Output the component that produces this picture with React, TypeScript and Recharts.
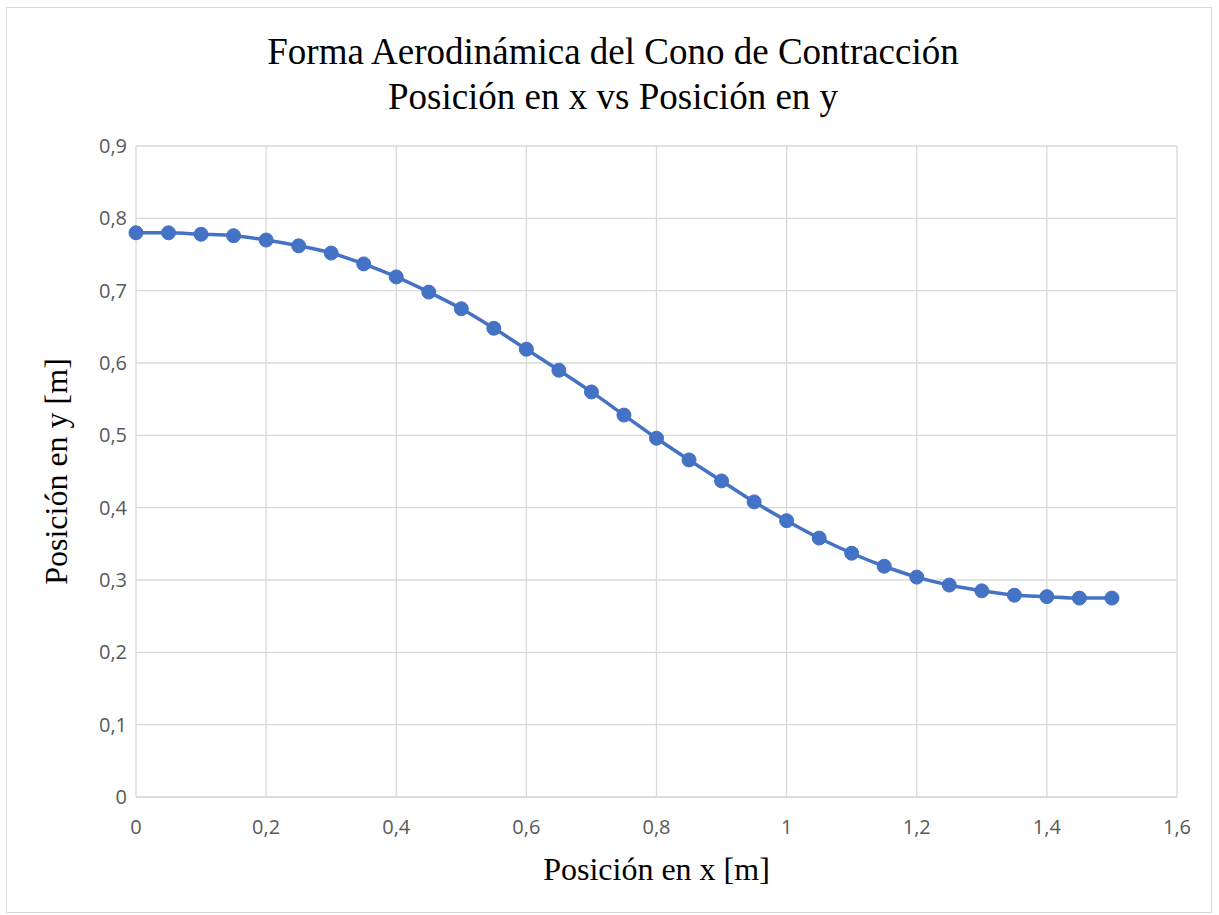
import { CartesianGrid, Label, Line, LineChart, XAxis, YAxis } from "recharts";

const xValues = [
  0, 0.05, 0.1, 0.15, 0.2, 0.25, 0.3, 0.35, 0.4, 0.45, 0.5, 0.55, 0.6, 0.65, 0.7, 0.75,
  0.8, 0.85, 0.9, 0.95, 1.0, 1.05, 1.1, 1.15, 1.2, 1.25, 1.3, 1.35, 1.4, 1.45, 1.5
];
const yValues = [
  0.78, 0.78, 0.778, 0.776, 0.77, 0.762, 0.752, 0.737, 0.719, 0.698, 0.675, 0.648, 0.619,
  0.59, 0.56, 0.528, 0.496, 0.466, 0.437, 0.408, 0.382, 0.358, 0.337, 0.319, 0.304, 0.293,
  0.285, 0.279, 0.277, 0.275, 0.275
];
const xTicks = [0, 0.2, 0.4, 0.6, 0.8, 1, 1.2, 1.4, 1.6];
const yTicks = [0, 0.1, 0.2, 0.3, 0.4, 0.5, 0.6, 0.7, 0.8, 0.9];

const data = xValues.map((x, i) => ({ x, y: yValues[i] }));

const fmt = (v: number) => String(Math.round(v * 10) / 10).replace(".", ",");

const tickStyle = { fill: "#595959", fontSize: 20, fontFamily: "'Open Sans', sans-serif" };
const serif = "'Liberation Serif', 'Times New Roman', serif";

export default function App() {
  return (
    <div style={{ position: "absolute", left: 0, top: 0, width: 1219, height: 915, background: "#fff" }}>
      <div
        style={{
          position: "absolute",
          left: 6,
          top: 7,
          width: 1206,
          height: 906,
          border: "1px solid #d9d9d9",
          boxSizing: "border-box"
        }}
      />
      <div
        style={{
          position: "absolute",
          left: 0,
          top: 29,
          width: 1226,
          textAlign: "center",
          fontFamily: serif,
          fontSize: 37,
          lineHeight: "45px",
          color: "#000"
        }}
      >
        Forma Aerodinámica del Cono de Contracción
        <br />
        Posición en x vs Posición en y
      </div>
      <div style={{ position: "absolute", left: 0, top: 0 }}>
        <LineChart width={1219} height={915} data={data} margin={{ top: 146, right: 42, bottom: 0, left: 80 }}>
          <CartesianGrid stroke="#d9d9d9" strokeWidth={1.3} />
          <XAxis
            dataKey="x"
            type="number"
            domain={[0, 1.6]}
            ticks={xTicks}
            tickFormatter={fmt}
            tick={tickStyle}
            tickLine={false}
            tickSize={0}
            tickMargin={23}
            axisLine={{ stroke: "#d9d9d9", strokeWidth: 1.3 }}
            height={118}
          >
            <Label
              value="Posición en x [m]"
              position="insideTop"
              offset={60}
              style={{ fontFamily: serif, fontSize: 32, fill: "#000" }}
            />
          </XAxis>
          <YAxis
            type="number"
            domain={[0, 0.9]}
            ticks={yTicks}
            tickFormatter={fmt}
            tick={tickStyle}
            tickLine={false}
            tickSize={0}
            tickMargin={9}
            axisLine={false}
            width={56}
          >
            <Label
              value="Posición en y [m]"
              angle={-90}
              position="left"
              offset={24}
              style={{ fontFamily: serif, fontSize: 32, fill: "#000", textAnchor: "middle" }}
            />
          </YAxis>
          <Line
            dataKey="y"
            type="monotone"
            stroke="#4472C4"
            strokeWidth={3.5}
            dot={{ r: 7, fill: "#4472C4", stroke: "#4472C4", strokeWidth: 1 }}
            activeDot={false}
            isAnimationActive={false}
          />
        </LineChart>
      </div>
    </div>
  );
}
